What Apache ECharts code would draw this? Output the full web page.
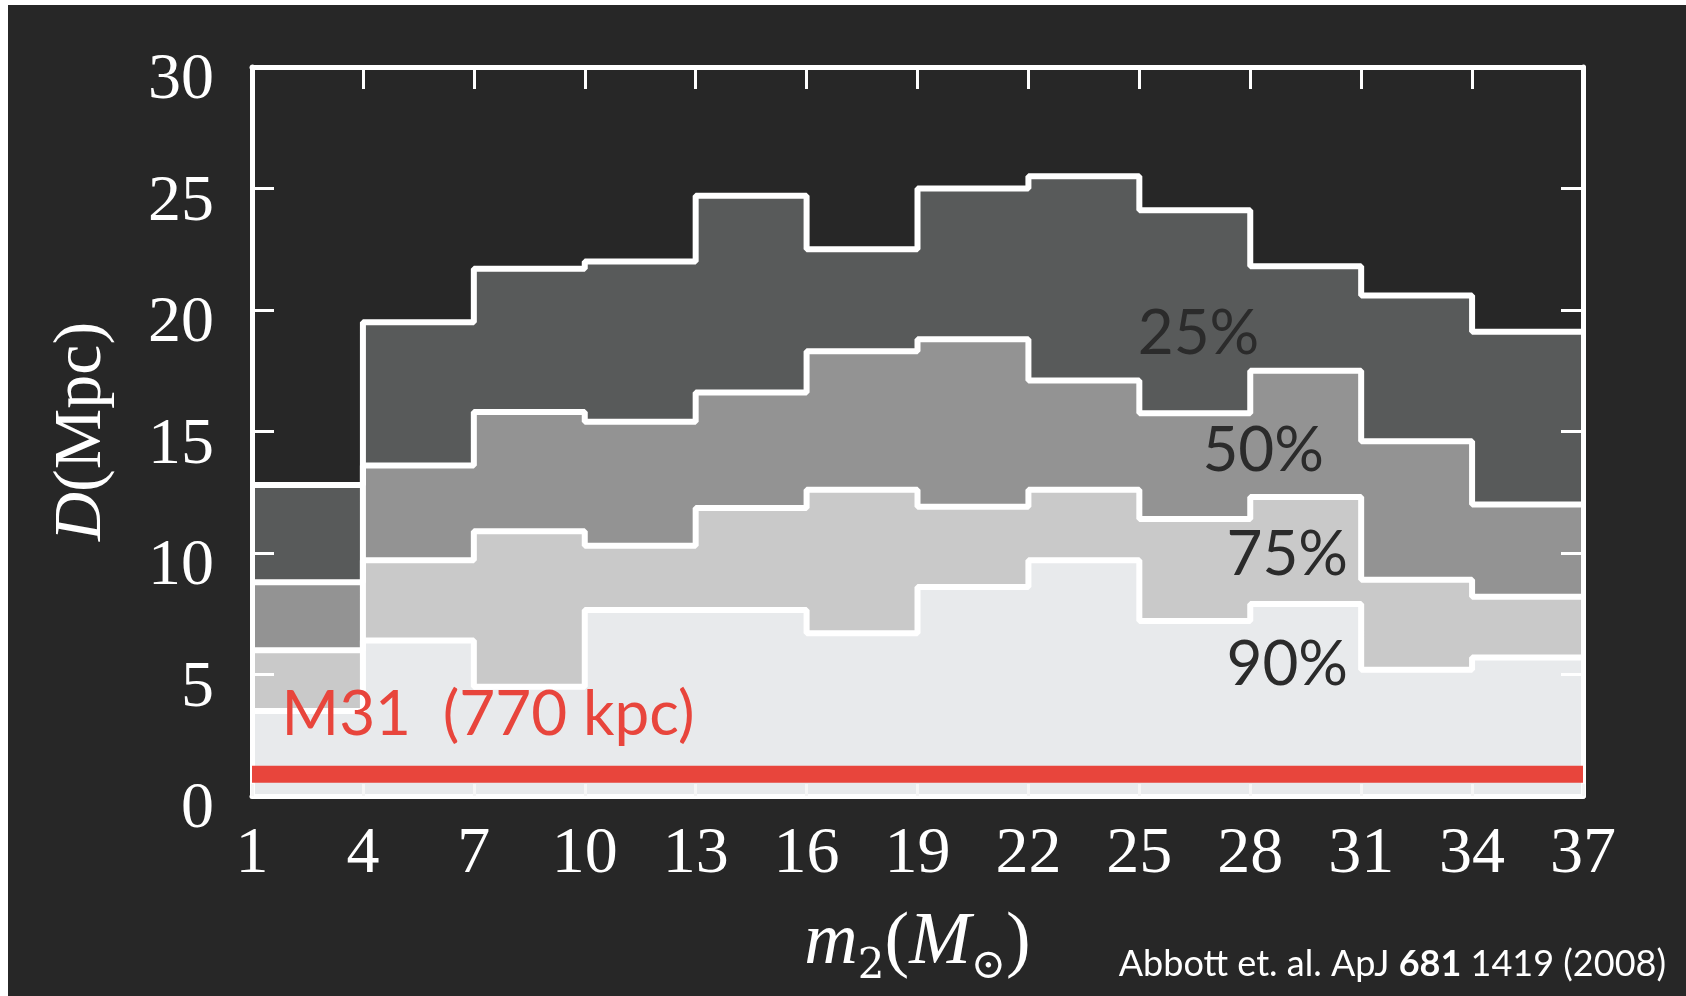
<!DOCTYPE html>
<html>
<head>
<meta charset="utf-8">
<script src="https://cdn.jsdelivr.net/npm/echarts@6/dist/echarts.min.js"></script>
<style>
html,body{margin:0;padding:0;background:#fff;}
#chart{width:1686px;height:996px;}
</style>
</head>
<body>
<div id="chart"></div>
<script>
// bin edges of m2 (solar masses) and tick labels
const binEdges = [1,4,7,10,13,16,19,22,25,28,31,34,37];
const xTickLabels = [1,4,7,10,13,16,19,22,25,28,31,34,37];
const yTickLabels = [0,5,10,15,20,25,30];
// horizon distance D (Mpc) per bin for each confidence level
const d25 = [12.8,19.5,21.7,22.0,24.7,22.5,25.0,25.5,24.1,21.8,20.6,19.1];
const d50 = [8.8,13.6,15.8,15.4,16.6,18.3,18.8,17.1,15.75,17.5,14.6,12.0];
const d75 = [6.0,9.7,10.9,10.3,11.85,12.6,11.9,12.6,11.4,12.3,8.9,8.2];
const d90 = [3.5,6.4,4.5,7.65,7.65,6.7,8.6,9.7,7.2,7.9,5.2,5.7];
const levelNames = ['25%','50%','75%','90%'];
const levelColors = ['#585a5a','#939393','#c9c9c9','#e8eaec'];
const labelPos = [[26.6,19.0],[28.35,14.2],[29.0,9.9],[29.0,5.4]];
const m31Distance = 0.9;
const m31Text = 'M31  (770 kpc)';
const m31LabelPos = [1.8,3.35];

function stepData(vals){
  const out = vals.map((v,i)=>[binEdges[i], v]);
  out.push([binEdges[binEdges.length-1], vals[vals.length-1]]);
  return out;
}

const levels = [d25,d50,d75,d90];
const serif = "'Liberation Serif','DejaVu Serif',serif";
const sans = "Lato,'Open Sans',sans-serif";

const series = levels.map((vals,k)=>({
  type:'line', name:levelNames[k], step:'end', data:stepData(vals),
  symbol:'none', z:2,
  lineStyle:{color:'#ffffff', width:6},
  areaStyle:{color:levelColors[k], opacity:1, origin:'start'},
  silent:true, animation:false
}));

series.push({
  type:'line', name:'M31', data:[[binEdges[0],m31Distance],[binEdges[binEdges.length-1],m31Distance]],
  symbol:'none', z:20, lineStyle:{color:'#e8453c', width:17, cap:'butt'}, animation:false
});

series.push({
  type:'scatter', z:21, symbolSize:0, itemStyle:{color:'#2b2b2b', opacity:1}, animation:false, silent:true,
  data: levelNames.map((n,k)=>({name:n, value:labelPos[k]})),
  label:{show:true, position:'inside', formatter:p=>p.name, color:'#2b2b2b', opacity:1,
         fontFamily:sans, fontSize:62}
});

series.push({
  type:'scatter', z:21, symbolSize:0, itemStyle:{color:'#e8453c', opacity:1}, animation:false, silent:true,
  data:[{name:m31Text, value:m31LabelPos}],
  label:{show:true, position:'right', distance:0, formatter:p=>p.name, color:'#e8453c', opacity:1,
         fontFamily:sans, fontSize:62}
});

const axisCommon = {
  type:'value', z:10,
  splitLine:{show:false},
  axisLine:{show:true, onZero:false, lineStyle:{color:'#ffffff', width:5}},
  axisTick:{show:true, inside:true, length:22, lineStyle:{color:'#ffffff', width:3}}
};

const chart = echarts.init(document.getElementById('chart'), null, {renderer:'canvas'});
chart.setOption({
  backgroundColor:'#ffffff',
  animation:false,
  graphic:[
    {type:'rect', z:-100, shape:{x:8, y:5, width:1700, height:1000}, style:{fill:'#272727'}},
    {type:'text', z:100, style:{
      text:'{n|Abbott et. al. ApJ }{b|681}{n| 1419 (2008)}',
      x:1666, y:964, align:'right', verticalAlign:'middle',
      rich:{
        n:{fontFamily:sans, fontSize:36, fill:'#ffffff', color:'#ffffff'},
        b:{fontFamily:sans, fontSize:36, fontWeight:'bold', fill:'#ffffff', color:'#ffffff'}
      }
    }}
  ],
  grid:{left:252, right:103, top:67, bottom:200, containLabel:false},
  xAxis:[
    Object.assign({}, axisCommon, {
      position:'bottom', min:1, max:37,
      axisTick:{show:true, inside:true, length:12, customValues:xTickLabels,
                lineStyle:{color:'#f6f6f6', width:3}},
      axisLabel:{show:true, customValues:xTickLabels, color:'#ffffff', fontFamily:serif,
                 fontSize:66, margin:26},
      name:'{i|m}{s|2}{n|(}{i|M}{s|⊙}{n|)}', nameLocation:'middle', nameGap:104,
      nameTextStyle:{rich:{
        i:{fontFamily:serif, fontStyle:'italic', fontSize:74, color:'#ffffff', lineHeight:88},
        n:{fontFamily:serif, fontSize:74, color:'#ffffff', lineHeight:88},
        s:{fontFamily:"'DejaVu Serif','Liberation Serif',serif", fontSize:42, color:'#ffffff',
           lineHeight:44, verticalAlign:'bottom'}
      }}
    }),
    Object.assign({}, axisCommon, {
      position:'top', min:1, max:37,
      axisTick:{show:true, inside:true, length:22, customValues:xTickLabels,
                lineStyle:{color:'#ffffff', width:3}},
      axisLabel:{show:false}
    })
  ],
  yAxis:[
    Object.assign({}, axisCommon, {
      position:'left', min:0, max:30, interval:5,
      axisLabel:{show:true, color:'#ffffff', fontFamily:serif, fontSize:66, margin:38,
                 verticalAlign:'top', lineHeight:28},
      name:'{i|D}{n|(Mpc)}', nameLocation:'middle', nameRotate:90, nameGap:128,
      nameTextStyle:{rich:{
        i:{fontFamily:serif, fontStyle:'italic', fontSize:68, color:'#ffffff', lineHeight:84},
        n:{fontFamily:serif, fontSize:68, color:'#ffffff', lineHeight:84}
      }}
    }),
    Object.assign({}, axisCommon, {
      position:'right', min:0, max:30, interval:5,
      axisLabel:{show:false}
    })
  ],
  series:series
});
</script>
</body>
</html>
